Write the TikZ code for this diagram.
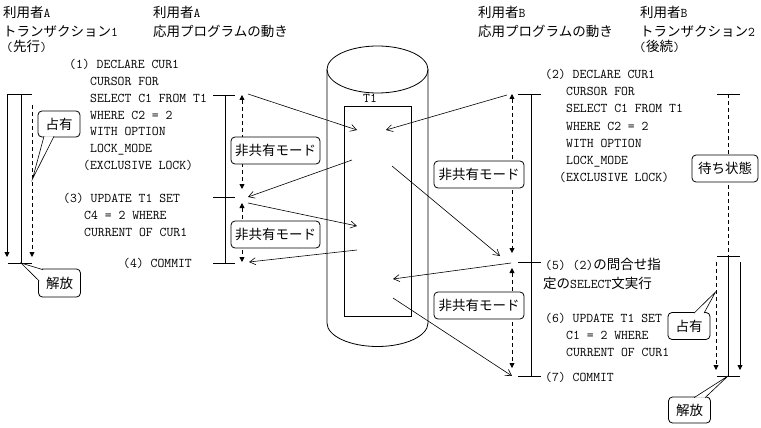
\documentclass[tikz,border=0pt]{standalone}
\usepackage{fontspec}
\newfontfamily\jpfont{Noto Sans CJK JP}
\newfontfamily\monofont{Latin Modern Mono}
\usetikzlibrary{arrows.meta}
\newcommand{\jpf}{\jpfont\fontsize{13.5}{16}\selectfont}
\newcommand{\mof}{\monofont\fontsize{13.33}{16}\selectfont}
\tikzset{
  mono/.style={font=\mof, anchor=base west, inner sep=0pt},
  jp/.style={font=\jpf, anchor=base west, inner sep=0pt},
  ln/.style={line width=0.8pt},
  dsh/.style={line width=0.8pt, dash pattern=on 4pt off 3pt},
  tip/.style={-{Triangle[length=5pt,width=5pt]}},
  tips/.style={{Triangle[length=5pt,width=5pt]}-{Triangle[length=5pt,width=5pt]}},
  msg/.style={line width=0.6pt, -{Straight Barb[length=6pt,width=7pt,line width=0.6pt]}},
  rbox/.style={draw, line width=0.8pt, rounded corners=4pt, fill=white, font=\jpf, inner sep=0pt, minimum height=27pt},
  tail/.style={fill=white, draw, line width=0.6pt}
}
\begin{document}
\begin{tikzpicture}[x=1pt,y=-1pt]
\fill[white] (0,0) rectangle (761,428);
\useasboundingbox (0,0) rectangle (761,428);

% ---------- headers ----------
\node[jp] (hA1) at (3,18) {利用者{\mof A}};
\node[jp] (hA2) at (3,36.5) {トランザクション{\mof 1}};
\node[jp] (hA3) at (6,52) {{\mof(}先行{\mof)}};
\node[jp] (hPA1) at (153,18) {利用者{\mof A}};
\node[jp] (hPA2) at (153,36.5) {応用プログラムの動き};
\node[jp] (hPB1) at (478,18) {利用者{\mof B}};
\node[jp] (hPB2) at (478,36.5) {応用プログラムの動き};
\node[jp] (hB1) at (640,18) {利用者{\mof B}};
\node[jp] (hB2) at (640,36.5) {トランザクション{\mof 2}};
\node[jp] (hB3) at (639,52) {{\mof(}後続{\mof)}};

% ---------- code A ----------
\node[mono] (a1) at (69,69) {(1) DECLARE CUR1};
\node[mono] (a2) at (90,85.7) {CURSOR FOR};
\node[mono] (a3) at (90,102.4) {SELECT C1 FROM T1};
\node[mono] (a4) at (90,119.1) {WHERE C2 = 2};
\node[mono] (a5) at (90,135.8) {WITH OPTION};
\node[mono] (a6) at (90,152.5) {LOCK\_MODE};
\node[mono] (a7) at (83,169.2) {(EXCLUSIVE LOCK)};
\node[mono] (a8) at (63,202) {(3) UPDATE T1 SET};
\node[mono] (a9) at (84,219) {C4 = 2 WHERE};
\node[mono] (a10) at (84,236) {CURRENT OF CUR1};
\node[mono] (a11) at (123,267) {(4) COMMIT};

% ---------- code B ----------
\node[mono] (b1) at (545,78.5) {(2) DECLARE CUR1};
\node[mono] (b2) at (566,95.7) {CURSOR FOR};
\node[mono] (b3) at (566,112.9) {SELECT C1 FROM T1};
\node[mono] (b4) at (566,130.1) {WHERE C2 = 2};
\node[mono] (b5) at (566,147.3) {WITH OPTION};
\node[mono] (b6) at (566,164.5) {LOCK\_MODE};
\node[mono] (b7) at (559,181.7) {(EXCLUSIVE LOCK)};
\node[mono] (b8) at (545,269) {(5) (2){\jpf の問合せ指}};
\node[mono] (b9) at (543,288) {{\jpf 定の}SELECT{\jpf 文実行}};
\node[mono] (b10) at (545,322) {(6) UPDATE T1 SET};
\node[mono] (b11) at (566,339) {C1 = 2 WHERE};
\node[mono] (b12) at (566,356) {CURRENT OF CUR1};
\node[mono] (b13) at (545,381.5) {(7) COMMIT};

% ---------- cylinder T1 ----------
\draw[ln] (377.5,69.5) ellipse [x radius=50.5, y radius=23.5];
\draw[ln] (327,69.5) -- (327,323) arc[start angle=180, end angle=0, x radius=50.5, y radius=23.5] -- (428,69.5);
\draw[ln] (344,106) rectangle (411,316);
\node[font=\mof, anchor=base, inner sep=0pt] (t1) at (370,102.5) {T1};

% ---------- coordinates ----------
% transaction 1
\coordinate (t1tl) at (8,94);   \coordinate (t1tr) at (32,94);
\coordinate (t1bl) at (8,263);  \coordinate (t1br) at (32,263);
\coordinate (t1top) at (21,94); \coordinate (t1bot) at (21,263);
\coordinate (t1as) at (7,94);   \coordinate (t1ae) at (7,257);
\coordinate (t1ds) at (32,105); \coordinate (t1de) at (32,257);
% program A
\coordinate (pAt1) at (213,95);  \coordinate (pAt2) at (235,95);
\coordinate (pAm1) at (213,197); \coordinate (pAm2) at (235,197);
\coordinate (pAb1) at (213,263); \coordinate (pAb2) at (235,263);
\coordinate (pAvt) at (225,95);  \coordinate (pAvb) at (225,263);
\coordinate (pAd1) at (242,95);  \coordinate (pAd2) at (242,189);
\coordinate (pAd3) at (242,203); \coordinate (pAd4) at (242,262);
% program B
\coordinate (pBt1) at (518,94);  \coordinate (pBt2) at (541,94);
\coordinate (pBm1) at (518,262); \coordinate (pBm2) at (541,262);
\coordinate (pBb1) at (518,376); \coordinate (pBb2) at (541,376);
\coordinate (pBvt) at (531,94);  \coordinate (pBvb) at (531,376);
\coordinate (pBd1) at (512,94);  \coordinate (pBd2) at (512,253);
\coordinate (pBd3) at (512,268); \coordinate (pBd4) at (512,368);
% transaction 2
\coordinate (t2tl) at (717,94);  \coordinate (t2tr) at (740,94);
\coordinate (t2ml) at (717,256); \coordinate (t2mr) at (740,256);
\coordinate (t2bl) at (717,376); \coordinate (t2br) at (740,376);
\coordinate (t2top) at (728,94); \coordinate (t2mid) at (728,256); \coordinate (t2bot) at (728,376);
\coordinate (t2as) at (740,262); \coordinate (t2ae) at (740,370);
\coordinate (t2ds) at (716,262); \coordinate (t2de) at (716,370);
% messages
\coordinate (m1s) at (248,94);  \coordinate (m1e) at (357,130);
\coordinate (m2s) at (507,95);  \coordinate (m2e) at (386,130);
\coordinate (m3s) at (352,160); \coordinate (m3e) at (248,197);
\coordinate (m4s) at (248,203); \coordinate (m4e) at (357,226);
\coordinate (m5s) at (392,166); \coordinate (m5e) at (500,256);
\coordinate (m6s) at (511,263); \coordinate (m6e) at (393,279);
\coordinate (m7s) at (357,250); \coordinate (m7e) at (249,262);
\coordinate (m8s) at (393,298); \coordinate (m8e) at (512,376);

% ---------- transaction 1 ----------
\draw[ln] (t1tl) -- (t1tr);
\draw[ln] (t1bl) -- (t1br);
\draw[ln] (t1top) -- (t1bot);
\draw[ln, tip] (t1as) -- (t1ae);
\draw[dsh, tip] (t1ds) -- (t1de);

% ---------- program A ----------
\draw[ln] (pAt1) -- (pAt2);
\draw[ln] (pAm1) -- (pAm2);
\draw[ln] (pAb1) -- (pAb2);
\draw[ln] (pAvt) -- (pAvb);
\draw[dsh, tips] (pAd1) -- (pAd2);
\draw[dsh, tips] (pAd3) -- (pAd4);

% ---------- program B ----------
\draw[ln] (pBt1) -- (pBt2);
\draw[ln] (pBm1) -- (pBm2);
\draw[ln] (pBb1) -- (pBb2);
\draw[ln] (pBvt) -- (pBvb);
\draw[dsh, tips] (pBd1) -- (pBd2);
\draw[dsh, tips] (pBd3) -- (pBd4);

% ---------- transaction 2 ----------
\draw[ln] (t2tl) -- (t2tr);
\draw[ln] (t2ml) -- (t2mr);
\draw[ln] (t2bl) -- (t2br);
\draw[dsh] (t2top) -- (t2mid);
\draw[ln] (t2mid) -- (t2bot);
\draw[ln, tip] (t2as) -- (t2ae);
\draw[dsh, tip] (t2ds) -- (t2de);

% ---------- messages ----------
\draw[msg] (m1s) -- (m1e);
\draw[msg] (m2s) -- (m2e);
\draw[msg] (m3s) -- (m3e);
\draw[msg] (m4s) -- (m4e);
\draw[msg] (m5s) -- (m5e);
\draw[msg] (m6s) -- (m6e);
\draw[msg] (m7s) -- (m7e);
\draw[msg] (m8s) -- (m8e);

% ---------- boxes ----------
\node[rbox, minimum width=89pt] (nkA1) at (275.5,150.5) {非共有モード};
\node[rbox, minimum width=89pt] (nkA2) at (275.5,234.5) {非共有モード};
\node[rbox, minimum width=90pt] (nkB1) at (479,174.5) {非共有モード};
\node[rbox, minimum width=90pt] (nkB2) at (479,305.5) {非共有モード};
\node[rbox, minimum width=66pt] (wait) at (725,168.5) {待ち状態};
\node[rbox, minimum width=42pt, minimum height=26pt] (occL) at (59,124) {占有};
\node[rbox, minimum width=42pt, minimum height=28pt] (relL) at (59.5,283) {解放};
\node[rbox, minimum width=42pt] (occR) at (689,326) {占有};
\node[rbox, minimum width=42pt, minimum height=26pt] (relR) at (689.5,410) {解放};

% ---------- callout tails ----------
\coordinate (occLa) at (44,136.3);  \coordinate (occLb) at (54,136.3);  \coordinate (occLt) at (32.5,179);
\coordinate (relLa) at (43,269.7);  \coordinate (relLb) at (39.2,281);  \coordinate (relLt) at (21,263);
\coordinate (occRa) at (694,313.2); \coordinate (occRb) at (704,313.2); \coordinate (occRt) at (715.5,292);
\coordinate (relRa) at (694,397.7); \coordinate (relRb) at (705,397.7); \coordinate (relRt) at (728,376);
\filldraw[tail] (occLa) -- (occLt) -- (occLb);
\filldraw[tail] (relLa) -- (relLt) -- (relLb);
\filldraw[tail] (occRa) -- (occRt) -- (occRb);
\filldraw[tail] (relRa) -- (relRt) -- (relRb);
\end{tikzpicture}
\end{document}
